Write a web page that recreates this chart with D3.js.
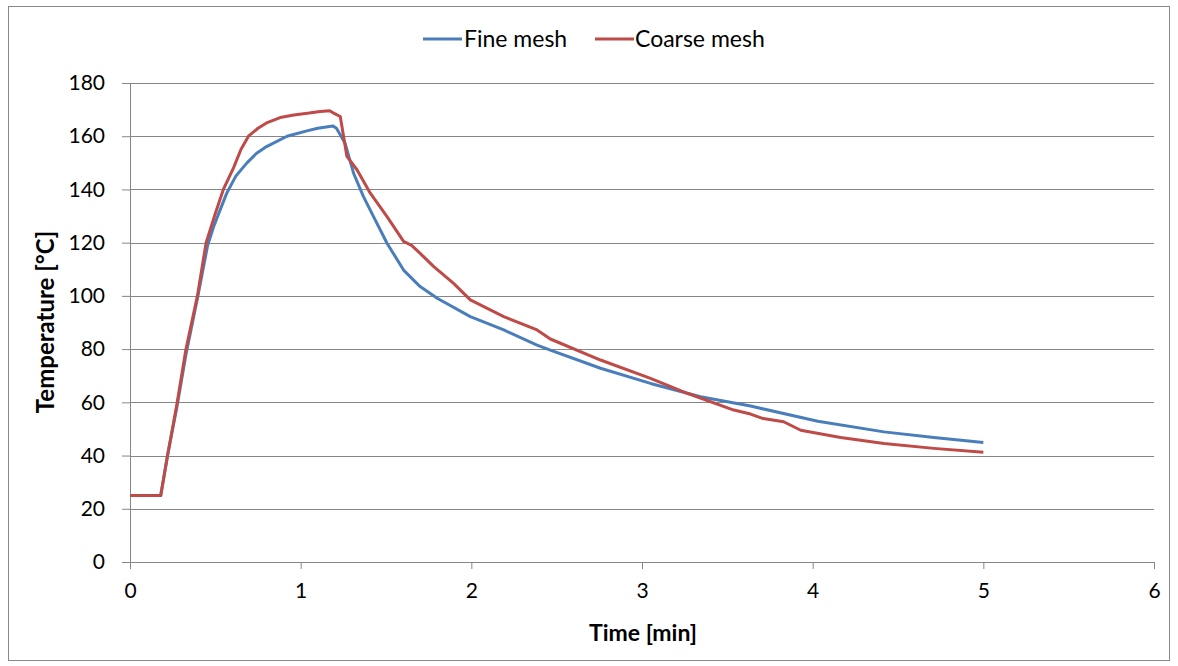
<!DOCTYPE html>
<html>
<head>
<meta charset="utf-8">
<script src="https://cdn.jsdelivr.net/npm/d3@7"></script>
<style>
  body { margin: 0; background: #fff; }
  svg { display: block; font-family: Lato, "Open Sans", sans-serif; }
</style>
</head>
<body>
<div id="chart"></div>
<script>
// data (time in min, temperature in °C)
const fineTime = [0, 0.18, 0.22, 0.274, 0.328, 0.395, 0.455, 0.49, 0.52, 0.567, 0.62, 0.684, 0.74, 0.80, 0.92, 1.036, 1.10, 1.19, 1.21,
  1.26, 1.31, 1.368, 1.427, 1.506, 1.603, 1.70, 1.80, 1.994, 2.19, 2.385, 2.463, 2.757, 3.05, 3.343, 3.636,
  4.03, 4.418, 4.71, 5.0];
const fineTemp = [25, 25, 40, 58, 78, 99, 119, 126, 131, 138.6, 145, 149.9, 153.5, 156.1, 160, 162, 163, 163.8, 163,
  157.4, 146.1, 137.3, 129.8, 119.8, 109.7, 103.5, 99.1, 92.2, 87.2, 81.5, 79.6, 72.8, 67.1, 62.1, 58.6,
  52.9, 48.9, 46.8, 44.9];

const coarseTime = [0, 0.18, 0.22, 0.274, 0.328, 0.395, 0.446, 0.50, 0.547, 0.606, 0.65, 0.694, 0.75, 0.80, 0.88, 0.96, 1.05, 1.114,
  1.17, 1.19, 1.232, 1.271, 1.33, 1.408, 1.506, 1.603, 1.65, 1.70, 1.78, 1.896, 1.994, 2.19, 2.385, 2.463, 2.757,
  3.05, 3.265, 3.538, 3.636, 3.71, 3.83, 3.93, 4.164, 4.418, 4.71, 5.0];
const coarseTemp = [25, 25, 40, 59, 80, 100, 120, 131, 140, 148, 155, 160, 163, 165, 167, 168, 168.7, 169.3,
  169.6, 168.8, 167.4, 152.4, 147.4, 138.6, 129.8, 120.5, 119, 116, 111, 104.7, 98.5, 92.2, 87.2, 83.8, 75.9,
  69, 63.4, 57.1, 55.6, 53.9, 52.7, 49.5, 46.8, 44.5, 42.7, 41.2];

const xTicks = [0, 1, 2, 3, 4, 5, 6];
const yTicks = [0, 20, 40, 60, 80, 100, 120, 140, 160, 180];
const seriesNames = ['Fine mesh', 'Coarse mesh'];

const W = 1178, H = 666;
const margin = {top: 83, right: 24, bottom: 104, left: 130};
const width = 1154 - margin.left,
    height = 562 - margin.top;

const colors = {'Fine mesh': '#4a7ebb', 'Coarse mesh': '#be4b48'};

const series = [
  {key: seriesNames[0], values: fineTime.map((t, i) => ({t: t, v: fineTemp[i]}))},
  {key: seriesNames[1], values: coarseTime.map((t, i) => ({t: t, v: coarseTemp[i]}))}
];

const svg = d3.select('#chart').append('svg')
    .attr('width', W)
    .attr('height', H);

// outer frame
svg.append('rect')
    .attr('x', 8.5).attr('y', 6.5)
    .attr('width', 1161).attr('height', 654)
    .attr('fill', '#fff')
    .attr('stroke', '#888').attr('stroke-width', 1);

const g = svg.append('g')
    .attr('transform', 'translate(' + margin.left + ',' + margin.top + ')');

const x = d3.scaleLinear().domain([0, 6]).range([0, width]);
const y = d3.scaleLinear().domain([0, 180]).range([height, 0]);

// gridlines
g.selectAll('.grid')
  .data(yTicks.filter(d => d > 0))
  .enter().append('line')
    .attr('class', 'grid')
    .attr('x1', 0).attr('x2', width)
    .attr('y1', d => Math.round(y(d)) + 0.5).attr('y2', d => Math.round(y(d)) + 0.5)
    .attr('stroke', '#868686').attr('stroke-width', 1);

// y axis
const yAxis = g.append('g')
    .call(d3.axisLeft(y).tickValues(yTicks).tickSize(8).tickPadding(17));
yAxis.select('.domain').attr('stroke', '#868686');
yAxis.selectAll('.tick line').attr('stroke', '#868686');
yAxis.selectAll('.tick text').attr('font-size', 21).attr('fill', '#000').attr('font-family', 'Lato');

// x axis
const xAxis = g.append('g')
    .attr('transform', 'translate(0,' + height + ')')
    .call(d3.axisBottom(x).tickValues(xTicks).tickFormat(d3.format('d')).tickSize(7).tickPadding(14));
xAxis.select('.domain').attr('stroke', '#868686');
xAxis.selectAll('.tick line').attr('stroke', '#868686');
xAxis.selectAll('.tick text').attr('font-size', 21).attr('fill', '#000').attr('font-family', 'Lato');

// lines
const line = d3.line()
    .x(d => x(d.t))
    .y(d => y(d.v));

g.selectAll('.temp')
  .data(series)
  .enter().append('path')
    .attr('class', 'temp')
    .attr('fill', 'none')
    .attr('stroke', d => colors[d.key])
    .attr('stroke-width', 3)
    .attr('stroke-linejoin', 'round')
    .attr('d', d => line(d.values));

// axis titles
svg.append('text')
    .attr('x', 643).attr('y', 641)
    .attr('text-anchor', 'middle')
    .attr('font-size', 23).attr('font-weight', 'bold')
    .text('Time [min]');

svg.append('text')
    .attr('transform', 'translate(54,322) rotate(-90)')
    .attr('text-anchor', 'middle')
    .attr('font-size', 24).attr('font-weight', 'bold')
    .text('Temperature [°C]');

// legend
const legendPos = [{x: 423, tx: 464}, {x: 595, tx: 635}];
const legend = svg.selectAll('.legend')
  .data(seriesNames)
  .enter().append('g')
    .attr('class', 'legend');
legend.append('line')
    .attr('x1', (d, i) => legendPos[i].x).attr('x2', (d, i) => legendPos[i].x + 39)
    .attr('y1', 39).attr('y2', 39)
    .attr('stroke', d => colors[d]).attr('stroke-width', 3);
legend.append('text')
    .attr('x', (d, i) => legendPos[i].tx).attr('y', 47)
    .attr('font-size', 23)
    .text(d => d);
</script>
</body>
</html>
